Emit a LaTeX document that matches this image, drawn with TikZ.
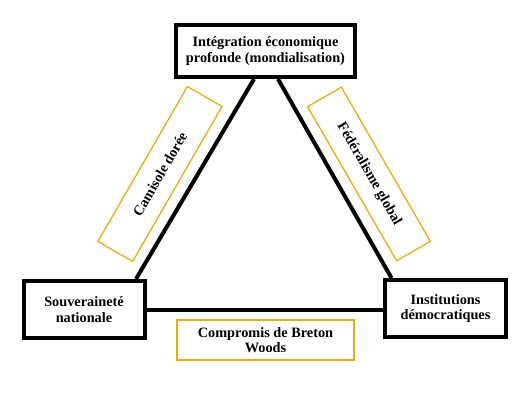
\documentclass[tikz,border=0pt]{standalone}
\usepackage{fontspec}
\setmainfont{Liberation Serif}
\definecolor{gold}{RGB}{232,172,22}
\begin{document}
\begin{tikzpicture}[x=1pt,y=-1pt,
  bigbox/.style={draw=black,line width=4pt,fill=white,align=center,inner sep=0pt,
    font=\bfseries\fontsize{14.3}{15.5}\selectfont},
  goldbox/.style={draw=gold,line width=1.3pt,align=center,inner sep=0pt,
    font=\bfseries\fontsize{14.3}{15.5}\selectfont},
  link/.style={line width=4pt,black}]
\useasboundingbox[fill=white] (0,0) rectangle (531,405);
% black boxes
\node[bigbox,minimum width=179pt,minimum height=52pt] (top) at (265.5,51)
  {Intégration économique\\profonde (mondialisation)};
\node[bigbox,minimum width=121pt,minimum height=57pt] (left) at (84,309.5)
  {Souveraineté\\nationale};
\node[bigbox,minimum width=121pt,minimum height=57pt] (right) at (445.5,308.5)
  {Institutions\\démocratiques};
% connectors
\draw[link] ([xshift=-11.5pt]top.south) -- ([xshift=52pt]left.north);
\draw[link] ([xshift=12.5pt]top.south) -- ([xshift=-54pt]right.north);
\draw[link] (left.east) -- (left.east -| right.west);
% gold labels
\node[goldbox,rotate=60,minimum width=179pt,minimum height=40pt] (camisole) at (160,174)
  {Camisole dorée};
\node[goldbox,rotate=-60,minimum width=178pt,minimum height=39pt] (federal) at (369,174)
  {Fédéralisme global};
\node[goldbox,minimum width=177pt,minimum height=40pt] (bretton) at (265.5,340)
  {Compromis de Breton\\Woods};
\end{tikzpicture}
\end{document}
